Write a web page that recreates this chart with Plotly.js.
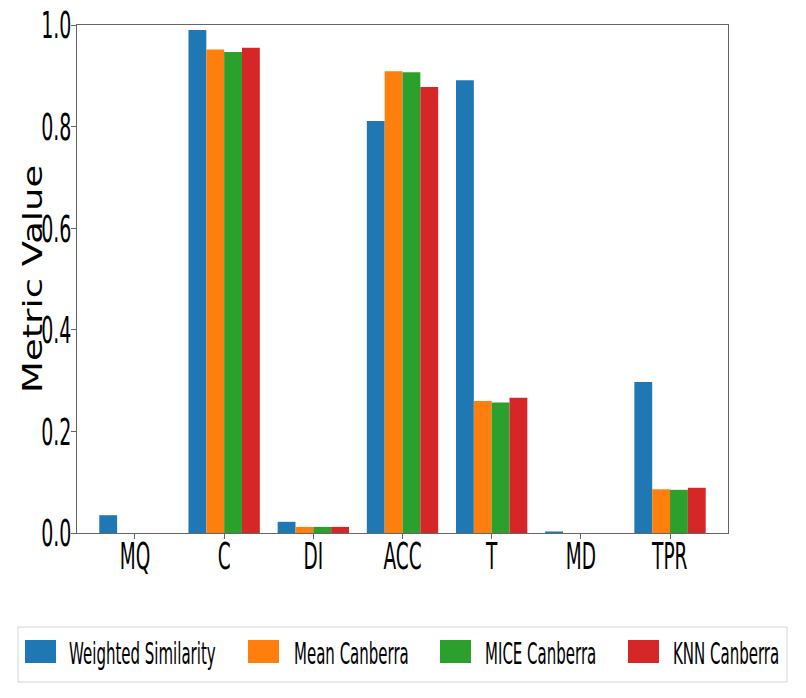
<!DOCTYPE html>
<html><head><meta charset="utf-8">
<script src="https://cdn.plot.ly/plotly-3.0.1.min.js"></script>
<style>html,body{margin:0;padding:0;background:#fff;overflow:hidden}</style>
</head><body><div id="chart" style="width:806px;height:698px"></div>
<script>
// ---- data ----
const categories = ['MQ', 'C', 'DI', 'ACC', 'T', 'MD', 'TPR'];
const seriesNames = ['Weighted Similarity', 'Mean Canberra', 'MICE Canberra', 'KNN Canberra'];
const weightedSimilarity = [0.035, 0.990, 0.022, 0.811, 0.891, 0.003, 0.297];
const meanCanberra       = [0.000, 0.952, 0.012, 0.909, 0.260, 0.000, 0.086];
const miceCanberra       = [0.000, 0.947, 0.012, 0.907, 0.257, 0.000, 0.085];
const knnCanberra        = [0.000, 0.955, 0.012, 0.878, 0.266, 0.000, 0.089];
const yTickValues = [0, 0.2, 0.4, 0.6, 0.8, 1.0];
const yTickLabels = ['0.0', '0.2', '0.4', '0.6', '0.8', '1.0'];
const yAxisLabel = 'Metric Value';

// ---- styling ----
const colors = ['#1f77b4', '#ff7f0e', '#2ca02c', '#d62728'];
const W = 806, H = 698, ML = 77, MR = 78, MT = 25, MB = 165;
const PW = W - ML - MR, PH = H - MT - MB;
const fx = px => (px - ML) / PW;
const fy = py => (H - MB - py) / PH;

const allValues = [weightedSimilarity, meanCanberra, miceCanberra, knnCanberra];
const traces = allValues.map((vals, i) => ({
  type: 'bar', x: categories, y: vals, name: seriesNames[i],
  marker: {color: colors[i], line: {width: 0}}, showlegend: false
}));

// manual legend (matplotlib-like)
const legSymX = [25, 248, 440, 628];
const legTxtX = [68, 293, 484, 672];
const shapes = [{
  type: 'rect', xref: 'paper', yref: 'paper',
  x0: fx(18), x1: fx(787), y0: fy(682), y1: fy(627),
  line: {color: '#d6d6d6', width: 1}, fillcolor: 'rgba(255,255,255,0.8)'
}];
const annotations = [];
seriesNames.forEach((n, i) => {
  shapes.push({type: 'rect', xref: 'paper', yref: 'paper',
    x0: fx(legSymX[i]), x1: fx(legSymX[i] + 31), y0: fy(663), y1: fy(640),
    line: {width: 0}, fillcolor: colors[i]});
  annotations.push({xref: 'paper', yref: 'paper', x: fx(legTxtX[i]), y: fy(653.5),
    xanchor: 'left', yanchor: 'middle', text: n, showarrow: false, borderpad: 0,
    font: {family: 'DejaVu Sans', size: 30, color: '#000'}});
});
annotations.push({xref: 'paper', yref: 'paper', x: fx(33), y: 0.5, xanchor: 'center', yanchor: 'middle',
  text: yAxisLabel, textangle: -90, showarrow: false, borderpad: 0,
  font: {family: 'DejaVu Sans', size: 37, color: '#000'}});

const layout = {
  width: W, height: H,
  margin: {l: ML, r: MR, t: MT, b: MB, pad: 0},
  paper_bgcolor: '#fff', plot_bgcolor: '#fff',
  barmode: 'group', bargap: 0.2, bargroupgap: 0,
  font: {family: 'DejaVu Sans', color: '#000'},
  xaxis: {
    type: 'category', range: [-0.65, 6.65], showgrid: false, zeroline: false,
    showline: true, linecolor: '#666', linewidth: 1, mirror: true,
    ticks: 'outside', ticklen: 5, tickcolor: '#666', tickwidth: 1,
    tickfont: {family: 'DejaVu Sans', size: 37, color: '#000'}
  },
  yaxis: {
    range: [0, 1.0], showgrid: false, zeroline: false,
    showline: true, linecolor: '#666', linewidth: 1, mirror: true,
    ticks: 'outside', ticklen: 5, tickcolor: '#666', tickwidth: 1,
    tickvals: yTickValues, ticktext: yTickLabels,
    tickfont: {family: 'DejaVu Sans', size: 38, color: '#000'}
  },
  shapes: shapes, annotations: annotations
};

// narrow the glyphs like the reference's condensed rendering
function squeeze(el, sx, sy, anchor, dx, dy) {
  const bb = el.getBBox();
  const cx = anchor === 'end' ? bb.x + bb.width : anchor === 'start' ? bb.x : bb.x + bb.width / 2;
  const cy = bb.y + bb.height / 2;
  const prev = el.getAttribute('transform') || '';
  el.setAttribute('transform', prev + ` translate(${dx || 0},${dy || 0}) translate(${cx},${cy}) scale(${sx},${sy}) translate(${-cx},${-cy})`);
}

Plotly.newPlot('chart', traces, layout, {staticPlot: true, displayModeBar: false}).then(gd => {
  gd.querySelectorAll('.xtick text').forEach(t => squeeze(t, 0.5, 1, 'middle', 0, -14));
  gd.querySelectorAll('.ytick text').forEach(t => squeeze(t, 0.5, 1, 'end', 8, 0));
  gd.querySelectorAll('.annotation-text').forEach(t => {
    if (t.textContent.trim() === yAxisLabel) {
      squeeze(t.closest('g.annotation'), 0.72, 1, 'middle', 0, 0);
    } else {
      squeeze(t, 0.5, 1, 'start', 0, 0);
    }
  });
});
</script>
</body></html>
